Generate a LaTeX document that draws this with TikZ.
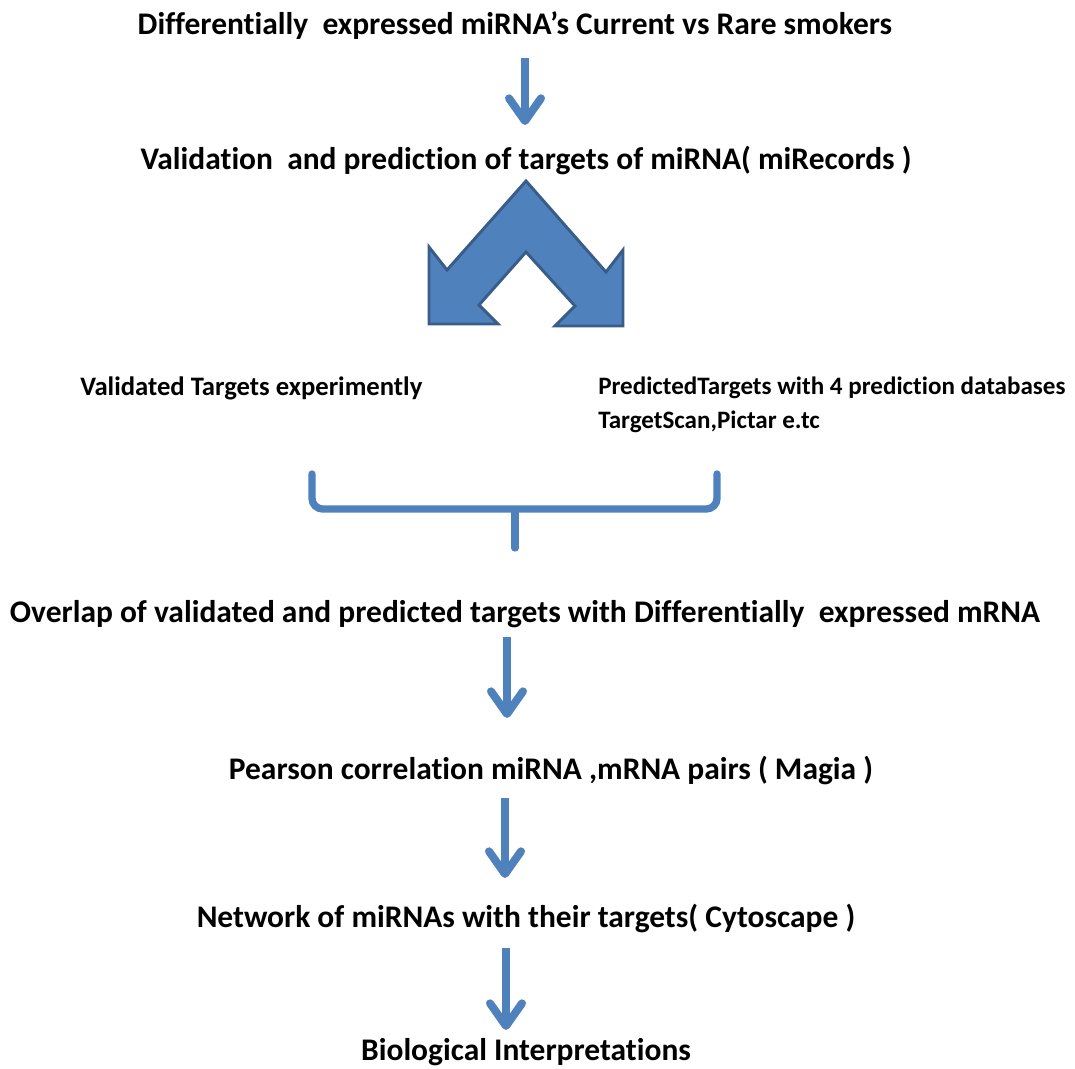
\documentclass[tikz,border=0pt]{standalone}
\usepackage{fontspec}
\setmainfont{Carlito}[Ligatures=NoCommon]
\usetikzlibrary{arrows.meta}
\definecolor{flowblue}{HTML}{4F81BD}
\definecolor{flowedge}{HTML}{385D8A}
\tikzset{
  steptext/.style={font=\bfseries\fontsize{23.6pt}{28pt}\selectfont, inner sep=0pt, anchor=center},
  subtext/.style={font=\bfseries\fontsize{#1}{25pt}\selectfont, inner sep=0pt, align=left},
  flow/.style={draw=flowblue, line width=6pt,
    -{Straight Barb[length=17pt,width=24pt,round]}},
  bracket/.style={draw=flowblue, line width=5.5pt, rounded corners=8pt, line cap=round},
  bigarrow/.style={fill=flowblue, draw=flowedge, line width=2.2pt, line join=miter}
}
\begin{document}
\begin{tikzpicture}[x=0.75pt, y=-0.75pt]
\useasboundingbox (0,0) rectangle (1075,1069);

% step texts
\node[steptext] (t1) at (515,26) {Differentially~ expressed miRNA’s Current vs Rare smokers};
\node[steptext] (t2) at (526,160) {Validation~ and prediction of targets of miRNA( miRecords )};
\node[subtext=20pt, anchor=west] (t3) at (80,388) {Validated Targets experimently};
\node[subtext=18.8pt, anchor=north west] (t4) at (598,377) {PredictedTargets with 4 prediction databases\\TargetScan,Pictar e.tc};
\node[steptext] (t5) at (525,614) {Overlap of validated and predicted targets with Differentially~ expressed mRNA};
\node[steptext] (t6) at (551,770) {Pearson correlation miRNA ,mRNA pairs ( Magia )};
\node[steptext] (t7) at (526,918) {Network of miRNAs with their targets( Cytoscape )};
\node[steptext] (t8) at (526,1052) {Biological Interpretations};

% arrow end points
\coordinate (a1s) at (525,58);  \coordinate (a1e) at (525,125);
\coordinate (a2s) at (507,637); \coordinate (a2e) at (507,718);
\coordinate (a3s) at (505,798); \coordinate (a3e) at (505,878);
\coordinate (a4s) at (506,948); \coordinate (a4e) at (506,1030);

\draw[flow] (a1s) -- (a1e);
\draw[flow] (a2s) -- (a2e);
\draw[flow] (a3s) -- (a3e);
\draw[flow] (a4s) -- (a4e);

% split arrow
\draw[bigarrow] (526,181) -- (606,272) -- (623,250) -- (623,326) -- (555,326)
  -- (575,306) -- (526,252) -- (479,305) -- (498,324) -- (429,324)
  -- (429,247) -- (447,270) -- cycle;

% joining bracket
\coordinate (bl) at (312,474);
\coordinate (br) at (717,474);
\coordinate (bm) at (515,548);
\draw[bracket] (bl) -- (312,509) -- (717,509) -- (br);
\draw[bracket, rounded corners=0pt] (bm) -- (515,512);
\end{tikzpicture}
\end{document}
